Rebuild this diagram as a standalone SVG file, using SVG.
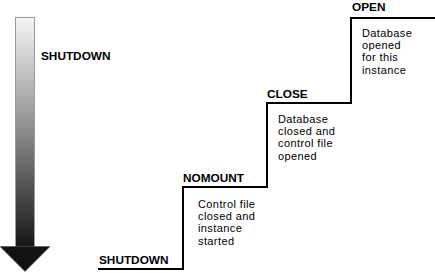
<svg xmlns="http://www.w3.org/2000/svg" width="435" height="273" viewBox="0 0 435 273">
<defs>
<linearGradient id="shaft" x1="0" y1="0" x2="0" y2="1">
<stop offset="0" stop-color="#f6f6f6"/>
<stop offset="0.5" stop-color="#8a8a8a"/>
<stop offset="1" stop-color="#151515"/>
</linearGradient>
</defs>
<style>
.lbl{font-family:"Liberation Sans",Arial,Helvetica,sans-serif;font-weight:bold;font-size:11.8px;fill:#000}
.body{font-family:"Liberation Sans",Arial,Helvetica,sans-serif;font-size:11px;letter-spacing:0.4px;fill:#000}
.step{fill:none;stroke:#000;stroke-width:2}
</style>
<rect width="435" height="273" fill="#fff"/>
<g id="arrow">
<rect x="15.5" y="17.5" width="19" height="230" fill="url(#shaft)" stroke="#9a9a9a" stroke-width="1"/>
<polygon points="0,246.5 50,246.5 25,271.5" fill="#121212" stroke="#555" stroke-width="0.6"/>
<text class="lbl" x="41" y="60">SHUTDOWN</text>
</g>
<g id="connectors">
<path class="step" d="M98 269 H183 V187 H267 V103 H351 V18 H435"/>
</g>
<g id="shutdown">
<text class="lbl" x="99" y="264">SHUTDOWN</text>
</g>
<g id="nomount">
<text class="lbl" x="183" y="182">NOMOUNT</text>
<text class="body" x="198" y="207.5">Control file</text>
<text class="body" x="198" y="219.9">closed and</text>
<text class="body" x="198" y="232.3">instance</text>
<text class="body" x="198" y="244.7">started</text>
</g>
<g id="close">
<text class="lbl" x="267" y="98">CLOSE</text>
<text class="body" x="278" y="122.5">Database</text>
<text class="body" x="278" y="134.9">closed and</text>
<text class="body" x="278" y="147.3">control file</text>
<text class="body" x="278" y="159.7">opened</text>
</g>
<g id="open">
<text class="lbl" x="352" y="11">OPEN</text>
<text class="body" x="362" y="36.5">Database</text>
<text class="body" x="362" y="48.9">opened</text>
<text class="body" x="362" y="61.3">for this</text>
<text class="body" x="362" y="73.7">instance</text>
</g>
</svg>
